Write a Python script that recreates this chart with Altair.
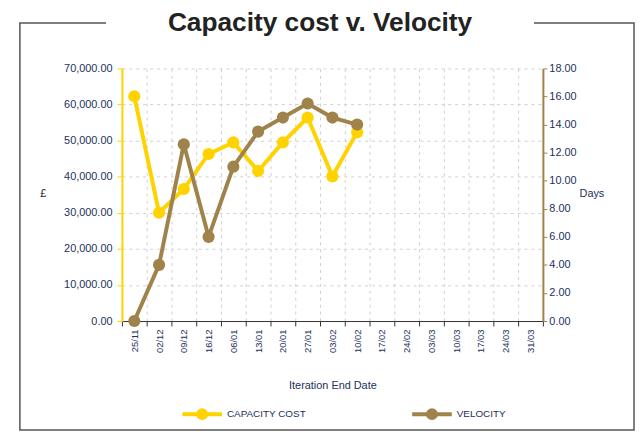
import altair as alt
import pandas as pd

# ---- data ----
dates = ["25/11", "02/12", "09/12", "16/12", "06/01", "13/01", "20/01", "27/01",
         "03/02", "10/02", "17/02", "24/02", "03/03", "10/03", "17/03", "24/03", "31/03"]
measured_dates = ["25/11", "02/12", "09/12", "16/12", "06/01", "13/01", "20/01",
                  "27/01", "03/02", "10/02"]
capacity_cost = [62300, 30000, 36600, 46300, 49500, 41600, 49500, 56400, 40100, 52300]
velocity = [0.0, 4.0, 12.6, 6.0, 11.0, 13.5, 14.5, 15.5, 14.5, 14.0]
series_names = ["CAPACITY COST", "VELOCITY"]
series_colors = ["#FFD200", "#A0824B"]
cost_ticks = [0, 10000, 20000, 30000, 40000, 50000, 60000, 70000]
velocity_ticks = [0, 2, 4, 6, 8, 10, 12, 14, 16, 18]
title_text = "Capacity cost v. Velocity"

cost_df = pd.DataFrame({"date": measured_dates, "value": capacity_cost,
                        "series": series_names[0]})
vel_df = pd.DataFrame({"date": measured_dates, "value": velocity,
                       "series": series_names[1]})

LABEL = "#22305C"
FONT = "Liberation Sans"

x_enc = alt.X("date:N", sort=dates,
              scale=alt.Scale(type="band", domain=dates, paddingInner=0, paddingOuter=0),
              axis=alt.Axis(title="Iteration End Date", labelAngle=270, labelAlign="right",
                            labelBaseline="middle", labelFontSize=9.5, labelColor=LABEL,
                            labelFont=FONT, labelPadding=3, tickBand="extent",
                            tickSize=5, tickColor="#333", domainColor="#333",
                            grid=True, gridColor="#cfcfcf", gridDash=[3, 4],
                            titleFont=FONT, titleFontSize=11, titleFontWeight="normal",
                            titleColor=LABEL, titleY=65, titleBaseline="middle"),
              bandPosition=0.5)

color_enc = alt.Color("series:N",
                      scale=alt.Scale(domain=series_names, range=series_colors),
                      legend=alt.Legend(title=None, orient="none", direction="horizontal",
                                        legendX=59, legendY=327,
                                        symbolType="M-1,0L1,0M0.2,0A0.2,0.2,0,1,1,-0.2,0A0.2,0.2,0,1,1,0.2,0Z",
                                        symbolSize=1600, symbolStrokeWidth=4,
                                        labelFont=FONT, labelFontSize=10, labelColor=LABEL,
                                        labelOffset=3, columnPadding=99))

cost_y = alt.Y("value:Q", scale=alt.Scale(domain=[0, 70000], nice=False),
               axis=alt.Axis(orient="left", values=cost_ticks, format=",.2f", title="£",
                             titleAngle=0, titleX=-80, titleY=126, titleAlign="center",
                             titleBaseline="middle", titleFont=FONT, titleFontSize=11,
                             titleFontWeight="normal", titleColor="#222",
                             labelFont=FONT, labelFontSize=11, labelColor=LABEL,
                             labelPadding=5, tickSize=5, tickColor="#FFD200",
                             domainColor="#FFD200", domainWidth=2,
                             grid=True, gridColor="#cfcfcf", gridDash=[3, 4]))
vel_y = alt.Y("value:Q", scale=alt.Scale(domain=[0, 18], nice=False),
              axis=alt.Axis(orient="right", values=velocity_ticks, format=".2f", title="Days",
                            titleAngle=0, titleX=49, titleY=126, titleAlign="center",
                            titleBaseline="middle", titleFont=FONT, titleFontSize=11,
                            titleFontWeight="normal", titleColor=LABEL,
                            labelFont=FONT, labelFontSize=11, labelColor=LABEL,
                            labelPadding=2, tickSize=4, tickColor="#A0824B",
                            domainColor="#A0824B", domainWidth=2, grid=False))

cost_layer = alt.Chart(cost_df).mark_line(
    strokeWidth=4, point=alt.OverlayMarkDef(filled=True, size=150, opacity=1)
).encode(x=x_enc, y=cost_y, color=color_enc)

vel_layer = alt.Chart(vel_df).mark_line(
    strokeWidth=4, point=alt.OverlayMarkDef(filled=True, size=150, opacity=1)
).encode(x=x_enc, y=vel_y, color=color_enc)

one = pd.DataFrame({"t": [title_text]})

frame = alt.Chart(one).mark_rect(fillOpacity=0, stroke="#555", strokeWidth=1.5).encode(
    x=alt.value(-103), x2=alt.value(517), y=alt.value(-46), y2=alt.value(365))
cover = alt.Chart(one).mark_rect(fill="white").encode(
    x=alt.value(-16), x2=alt.value(416), y=alt.value(-50), y2=alt.value(-42))
title = alt.Chart(one).mark_text(font=FONT, fontSize=26.5, fontWeight="bold", color="#222",
                                 align="center", baseline="alphabetic").encode(
    x=alt.value(200), y=alt.value(-38), text="t:N")

chart = alt.layer(
    frame, cover, title, cost_layer, vel_layer
).resolve_scale(y="independent").properties(
    width=425, height=255,
    autosize=alt.AutoSizeParams(type="none"),
    padding={"left": 115, "top": 59, "right": 94, "bottom": 110},
).configure_view(stroke=None)

chart.save("out.html", embed_options={"renderer": "svg", "actions": False})
